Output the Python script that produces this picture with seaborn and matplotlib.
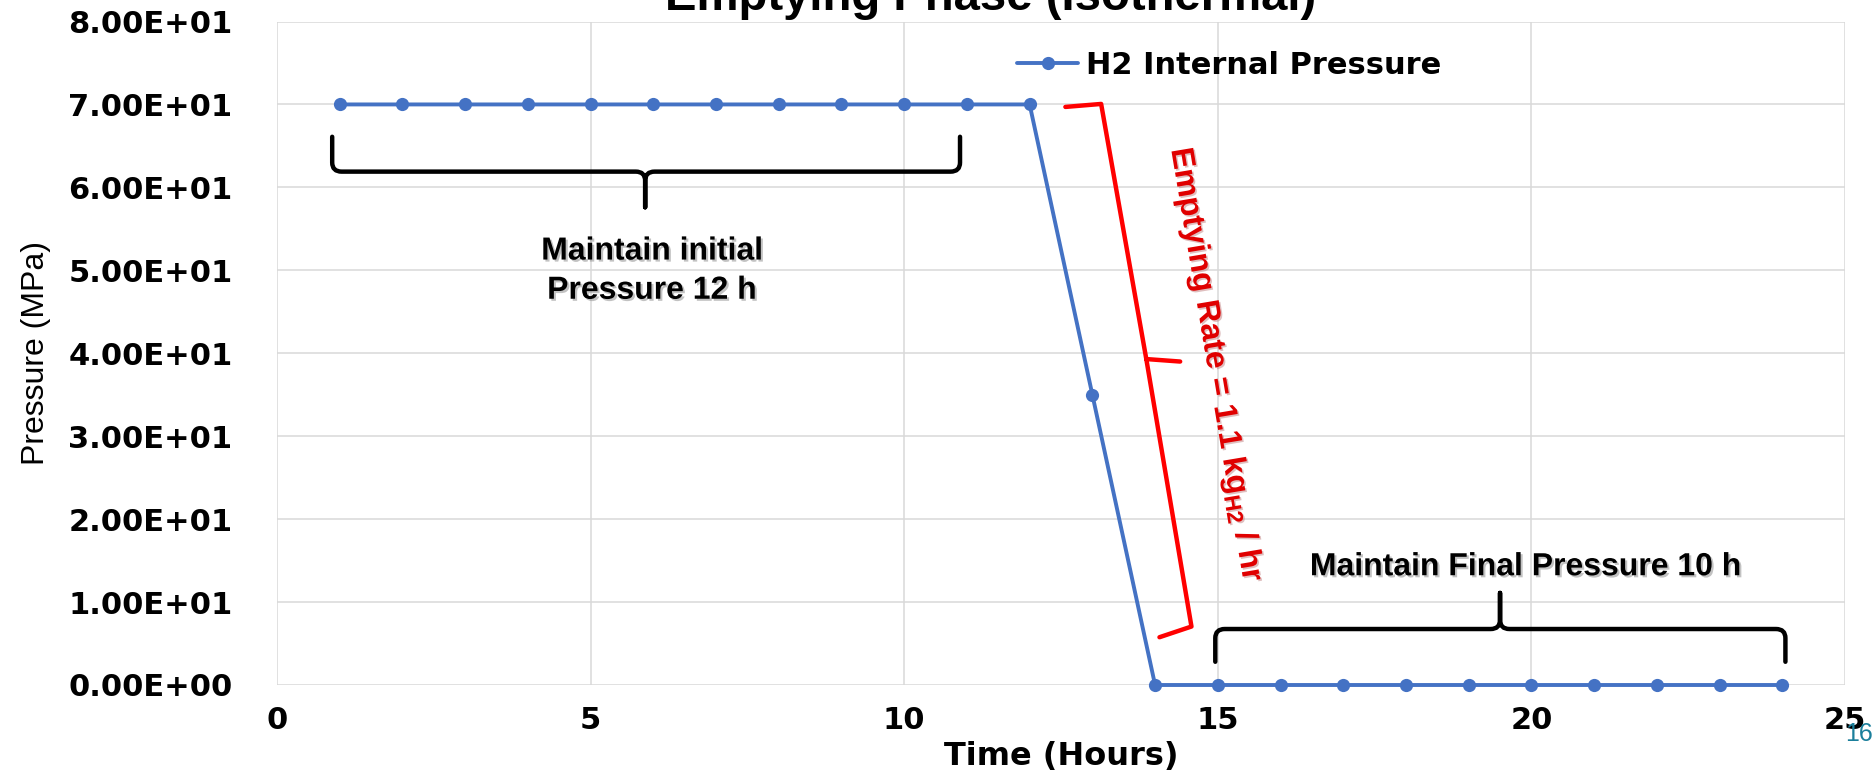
import matplotlib
matplotlib.use("Agg")
import matplotlib.pyplot as plt
import matplotlib.patheffects as pe
from matplotlib.path import Path
from matplotlib.patches import PathPatch
import seaborn as sns
import pandas as pd

# ---------------- data ----------------
time_h = [1, 2, 3, 4, 5, 6, 7, 8, 9, 10, 11, 12,
          13, 14, 15, 16, 17, 18, 19, 20, 21, 22, 23, 24]
pressure_mpa = [70, 70, 70, 70, 70, 70, 70, 70, 70, 70, 70, 70,
                35, 0, 0, 0, 0, 0, 0, 0, 0, 0, 0, 0]
series_name = "H2 Internal Pressure"
x_ticks = [0, 5, 10, 15, 20, 25]
x_tick_labels = ["0", "5", "10", "15", "20", "25"]
y_ticks = [0, 10, 20, 30, 40, 50, 60, 70, 80]
y_tick_labels = ["0.00E+00", "1.00E+01", "2.00E+01", "3.00E+01", "4.00E+01",
                 "5.00E+01", "6.00E+01", "7.00E+01", "8.00E+01"]
title = "Emptying Phase (Isothermal)"
x_label = "Time (Hours)"
y_label = "Pressure (MPa)"
note_initial = "Maintain initial\nPressure 12 h"
note_final = "Maintain Final Pressure 10 h"
note_rate = r"Emptying Rate = 1.1 kg$_{\mathbf{H2}}$ / hr"
page_no = "16"

df = pd.DataFrame({"Time": time_h, "Pressure": pressure_mpa, "Series": series_name})

# ---------------- style ----------------
sns.set_theme(style="white")
plt.rcParams["font.family"] = ["DejaVu Sans"]
plt.rcParams["text.color"] = "black"
plt.rcParams["axes.labelcolor"] = "black"
plt.rcParams["mathtext.fontset"] = "custom"
plt.rcParams["mathtext.rm"] = "Liberation Sans:bold"
plt.rcParams["mathtext.bf"] = "Liberation Sans:bold"

BLUE = "#4472C4"
GRID = "#d9d9d9"
W, H = 1872, 772
fig = plt.figure(figsize=(W / 100, H / 100), dpi=100)
ax = fig.add_axes([277 / W, 1 - 685 / H, 1568 / W, 663.5 / H])

sns.lineplot(data=df, x="Time", y="Pressure", hue="Series", palette=[BLUE],
             marker="o", markersize=9.5, markeredgewidth=0, linewidth=2.8,
             ax=ax, clip_on=False, zorder=5)

ax.set_xlim(0, 25)
ax.set_ylim(0, 80)
ax.set_xticks(x_ticks)
ax.set_xticklabels(x_tick_labels)
ax.set_yticks(y_ticks)
ax.set_yticklabels(y_tick_labels)
ax.tick_params(axis="x", length=0, pad=15, labelsize=22, labelcolor="black")
ax.tick_params(axis="y", length=0, pad=32, labelsize=22, labelcolor="black")
for lab in ax.get_xticklabels() + ax.get_yticklabels():
    lab.set_fontweight("bold")
ax.grid(True, color=GRID, linewidth=1.1)
ax.set_axisbelow(True)
for s in ax.spines.values():
    s.set_visible(False)

ax.set_xlabel(x_label, fontsize=23, fontweight="bold", va="center", color="black")
ax.xaxis.set_label_coords(0.5, -0.1085)
ax.set_ylabel(y_label, fontsize=23, family="Liberation Sans", va="center", color="black")
ax.yaxis.set_label_coords(-0.154, 0.5)

leg = ax.legend(loc="center left", bbox_to_anchor=(1017 / W, 1 - 65 / H),
                bbox_transform=fig.transFigure, frameon=False, borderpad=0,
                borderaxespad=0, handlelength=2.0, handletextpad=0.25,
                prop={"family": "DejaVu Sans", "weight": "bold", "size": 22})
for t in leg.get_texts():
    t.set_color("black")

fig.text(991 / W, 1 - 10 / H, title, ha="center", va="baseline", fontsize=34,
         fontweight="bold", family="Liberation Sans", color="black")
fig.text(1845 / W, 1 - 741 / H, page_no, ha="left", va="baseline", fontsize=18,
         family="Liberation Sans", color="#1b7f9b")


# ---------------- annotation braces ----------------
def hbrace(x0, x1, xm, y_end, y_bar, y_tip, color, rx=0.15, ry=1.1, lw=3.2):
    s = 1 if y_end > y_bar else -1
    verts = [(x0, y_end), (x0, y_bar + s * ry), (x0, y_bar), (x0 + rx, y_bar),
             (xm - rx, y_bar), (xm, y_bar), (xm, y_bar - s * ry), (xm, y_tip),
             (xm, y_tip), (xm, y_bar - s * ry), (xm, y_bar), (xm + rx, y_bar),
             (x1 - rx, y_bar), (x1, y_bar), (x1, y_bar + s * ry), (x1, y_end)]
    codes = [Path.MOVETO, Path.LINETO, Path.CURVE3, Path.CURVE3,
             Path.LINETO, Path.CURVE3, Path.CURVE3, Path.LINETO,
             Path.MOVETO, Path.LINETO, Path.CURVE3, Path.CURVE3,
             Path.LINETO, Path.CURVE3, Path.CURVE3, Path.LINETO]
    ax.add_patch(PathPatch(Path(verts, codes), fill=False, edgecolor=color,
                           linewidth=lw, capstyle="round", joinstyle="round",
                           clip_on=False, zorder=6))


hbrace(0.88, 10.89, 5.87, 66.1, 61.9, 57.6, "black")
hbrace(14.96, 24.05, 19.5, 2.8, 6.75, 11.1, "black")

# slanted red brace
red_verts = [(12.57, 69.7), (13.14, 70.06), (13.86, 39.3), (14.40, 39.0),
             (13.86, 39.3), (14.58, 7.05), (14.07, 5.76)]
red_codes = [Path.MOVETO, Path.LINETO, Path.LINETO, Path.LINETO,
             Path.MOVETO, Path.LINETO, Path.LINETO]
ax.add_patch(PathPatch(Path(red_verts, red_codes), fill=False, edgecolor="#ff0000",
                       linewidth=3.2, capstyle="round", joinstyle="round",
                       clip_on=False, zorder=6))

shadow = [pe.withSimplePatchShadow(offset=(1.5, -1.5), shadow_rgbFace="#9a9a9a", alpha=0.6)]
ax.text(5.98, 49.9, note_initial, ha="center", va="center", fontsize=23,
        fontweight="bold", family="Liberation Sans", color="black",
        linespacing=1.4, multialignment="center", path_effects=shadow, zorder=7)
ax.text(19.91, 14.2, note_final, ha="center", va="center", fontsize=23,
        fontweight="bold", family="Liberation Sans", color="black",
        path_effects=shadow, zorder=7)
ax.text(14.96, 38.5, note_rate, ha="center", va="center", rotation=-80.5,
        rotation_mode="anchor", fontsize=23, fontweight="bold",
        family="Liberation Sans", color="#e00000",
        path_effects=[pe.withSimplePatchShadow(offset=(1.2, -1.2),
                                               shadow_rgbFace="#c08080", alpha=0.5)],
        zorder=7)

fig.savefig("out.png", dpi=100)
